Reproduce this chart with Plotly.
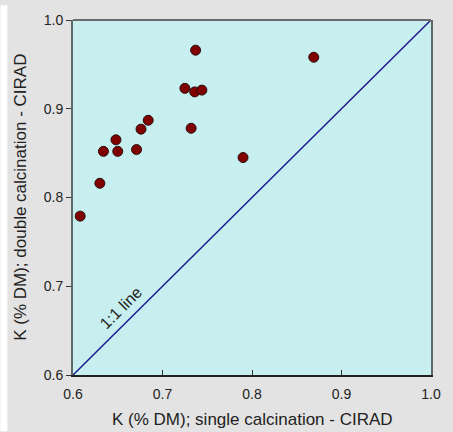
import plotly.graph_objects as go

single_calc = [0.737, 0.725, 0.736, 0.744, 0.684, 0.676, 0.732, 0.648, 0.634, 0.650,
               0.671, 0.630, 0.790, 0.869, 0.608]
double_calc = [0.966, 0.923, 0.919, 0.921, 0.887, 0.877, 0.878, 0.865, 0.852, 0.852,
               0.854, 0.816, 0.845, 0.958, 0.779]
line_1to1 = [0.6, 1.0]
tick_vals = [0.6, 0.7, 0.8, 0.9, 1.0]
tick_text = ["0.6", "0.7", "0.8", "0.9", "1.0"]

W, H = 453, 432
L, R, T, B = 73, 20, 15, 57
PW, PH = W - L - R, H - T - B

fig = go.Figure()
fig.add_trace(go.Scatter(x=line_1to1, y=line_1to1, mode="lines",
                         line=dict(color="#1c1c8e", width=1.5), hoverinfo="skip"))
fig.add_trace(go.Scatter(x=single_calc, y=double_calc, mode="markers",
                         marker=dict(size=10, color="#800000",
                                     line=dict(color="#2a1010", width=1))))

fnt = dict(family="Liberation Sans, Arial, sans-serif", size=14, color="#222")

fig.update_layout(
    width=W, height=H, showlegend=False,
    margin=dict(l=L, r=R, t=T, b=B),
    paper_bgcolor="#e3e3e3", plot_bgcolor="#c8eff0",
    font=fnt,
    xaxis=dict(range=[0.6, 1.0], tickvals=tick_vals, ticktext=tick_text,
               ticks="inside", ticklen=5, tickcolor="#333", showgrid=False,
               zeroline=False, showline=True, linecolor="#222", linewidth=2,
               mirror=False, ticklabelstandoff=5,
               tickfont=dict(size=14, color="#222")),
    yaxis=dict(range=[0.6, 1.0], tickvals=tick_vals, ticktext=tick_text,
               ticks="outside", ticklen=5, tickcolor="#333", showgrid=False,
               zeroline=False, showline=True, linecolor="#5d6868", linewidth=2,
               mirror=True, tickfont=dict(size=14, color="#222")),
    shapes=[
        dict(type="line", xref="paper", yref="paper", x0=0, x1=1, y0=1, y1=1,
             line=dict(color="#6a6a6a", width=2)),
        dict(type="rect", xref="paper", yref="paper",
             x0=-L / PW, x1=(7 - L) / PW, y0=-B / PH, y1=1 + T / PH,
             fillcolor="white", line=dict(width=0), layer="below"),
    ],
    annotations=[
        dict(text="1:1 line", x=0.654, y=0.676, xref="x", yref="y",
             showarrow=False, textangle=-45, font=dict(size=16, color="#222")),
        dict(text="K (% DM); single calcination - CIRAD", xref="paper", yref="paper",
             x=0.5, y=(375 - 420) / PH, xanchor="center", yanchor="middle",
             showarrow=False, font=dict(size=17, color="#222")),
        dict(text="K (% DM); double calcination - CIRAD", xref="paper", yref="paper",
             x=(20 - L) / PW, y=0.5, xanchor="center", yanchor="middle",
             showarrow=False, textangle=-90, font=dict(size=17, color="#222")),
    ],
)

fig.write_html(
    "out.html",
    config={"displayModeBar": False},
    post_script=("document.body.style.margin='0';document.body.style.overflow='hidden';"
                 "document.documentElement.style.overflow='hidden';"
                 "document.body.style.background='#e3e3e3';"
                 "document.documentElement.style.background='#e3e3e3';"),
)
